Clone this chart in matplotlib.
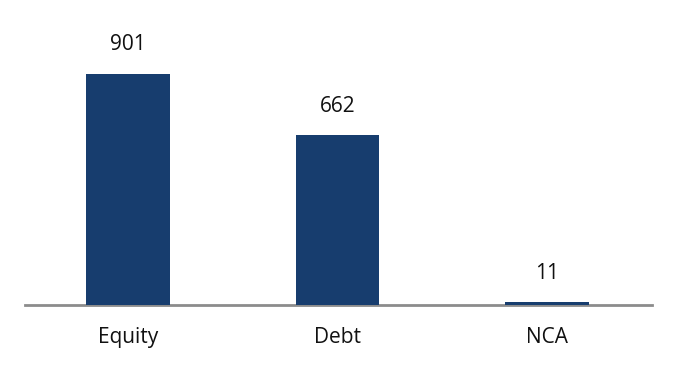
import numpy as np
import matplotlib.pyplot as plt

# data
categories = ["Equity", "Debt", "NCA"]
values = [901, 662, 11]

bar_color = "#173d6e"

fig = plt.figure(figsize=(6.77, 3.74), dpi=100)
ax = fig.add_axes([25 / 677, 69 / 374, 627 / 677, 305 / 374])

x = np.arange(len(categories))
ax.bar(x, values, width=0.40, color=bar_color, zorder=2)

ax.set_xlim(-0.49, 2.5)
ax.set_ylim(0, 901 * 305 / 231)

for xi, v in zip(x, values):
    ax.annotate(str(v), (xi, v), xytext=(0, 29), textcoords="offset pixels",
                ha="center", va="center", fontsize=15, family="Open Sans",
                color="#111111")

ax.set_xticks(x)
ax.set_xticklabels(categories, fontsize=15, family="Open Sans", color="#111111")
ax.tick_params(axis="x", length=0, pad=16)
ax.set_yticks([])

for s in ["top", "right", "left"]:
    ax.spines[s].set_visible(False)
ax.spines["bottom"].set_color("#8c8c8c")
ax.spines["bottom"].set_linewidth(2)
ax.spines["bottom"].set_zorder(1)

fig.savefig("out.png", dpi=100)
